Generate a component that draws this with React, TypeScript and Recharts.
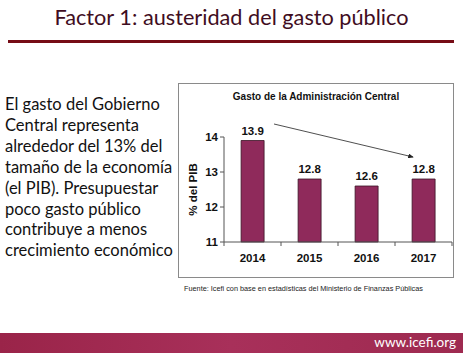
import React from 'react';
import { BarChart, Bar, XAxis, YAxis, LabelList } from 'recharts';

const years = ['2014', '2015', '2016', '2017'];
const gasto = [13.9, 12.8, 12.6, 12.8];
const yTicks = [11, 12, 13, 14];

const bodyLines = [
  'El gasto del Gobierno',
  'Central representa',
  'alrededor del 13% del',
  'tamaño de la economía',
  '(el PIB). Presupuestar',
  'poco gasto público',
  'contribuye a menos',
  'crecimiento económico',
];

const data = years.map((year, i) => ({ year, gasto: gasto[i] }));

const CHART_W = 274;
const CHART_H = 193;
const MARGIN = { top: 53, right: 1, bottom: 5, left: 0 };
const Y_AXIS_W = 45;
const X_AXIS_H = 30;
const bandWidth = (CHART_W - MARGIN.left - MARGIN.right - Y_AXIS_W) / years.length;
const FONT = 'Liberation Sans';

// x-axis tick marks sit between the categories, as in Excel
const YearTick = (props: any) => {
  const { x, y, payload, index } = props;
  const left = x - bandWidth / 2;
  return (
    <g>
      <line x1={left} y1={y - 8} x2={left} y2={y - 4} stroke="#555" />
      {index === years.length - 1 && (
        <line x1={left + bandWidth} y1={y - 8} x2={left + bandWidth} y2={y - 4} stroke="#555" />
      )}
      <text x={x} y={y + 12} textAnchor="middle" fontSize={11.5} fontWeight="bold" fill="#111" fontFamily={FONT}>
        {payload.value}
      </text>
    </g>
  );
};

const App = () => {
  return (
    <div style={{ position: 'absolute', left: 0, top: 0, width: 463, height: 353, background: '#fff', overflow: 'hidden' }}>
      <div
        style={{
          position: 'absolute', left: 0, width: 463, top: 4, textAlign: 'center',
          fontFamily: 'Lato', fontSize: 21.7, color: '#3f0d22',
        }}
      >
        Factor 1: austeridad del gasto público
      </div>
      <div style={{ position: 'absolute', left: 8, top: 40, width: 446, height: 3, background: '#760c16' }} />

      <div style={{ position: 'absolute', left: 5, top: 94, fontFamily: 'Lato', fontSize: 16.5, lineHeight: '20.9px', color: '#111' }}>
        {bodyLines.map((l) => (
          <div key={l} style={{ whiteSpace: 'nowrap' }}>{l}</div>
        ))}
      </div>

      <div style={{ position: 'absolute', left: 178, top: 83, width: CHART_W, height: CHART_H, border: '1px solid #8a8a8a' }}>
        <div
          style={{
            position: 'absolute', left: 0, width: CHART_W, top: 7, textAlign: 'center',
            fontFamily: FONT, fontWeight: 'bold', fontSize: 10, color: '#111',
          }}
        >
          Gasto de la Administración Central
        </div>
        <BarChart width={CHART_W} height={CHART_H} data={data} margin={MARGIN} barCategoryGap="30%">
          <XAxis
            dataKey="year"
            height={X_AXIS_H}
            tick={<YearTick />}
            tickLine={false}
            axisLine={{ stroke: '#555' }}
            interval={0}
          />
          <YAxis
            domain={[11, 14]}
            ticks={yTicks}
            width={Y_AXIS_W}
            tickSize={4}
            tickLine={{ stroke: '#555' }}
            axisLine={{ stroke: '#555' }}
            tick={{ fontSize: 11.5, fontWeight: 'bold', fill: '#111', fontFamily: FONT }}
            label={{
              value: '% del PIB', angle: -90, position: 'insideLeft', offset: 14,
              style: { fontSize: 11.5, fontWeight: 'bold', fill: '#111', fontFamily: FONT, textAnchor: 'middle' },
            }}
          />
          <Bar dataKey="gasto" fill="#8f2a5b" stroke="#3a1426" strokeWidth={0.8} isAnimationActive={false}>
            <LabelList
              dataKey="gasto"
              position="top"
              offset={6}
              style={{ fontSize: 11.5, fontWeight: 'bold', fill: '#111', fontFamily: FONT }}
            />
          </Bar>
        </BarChart>
        {/* trend arrow annotation */}
        <svg style={{ position: 'absolute', left: 0, top: 0 }} width={CHART_W} height={CHART_H}>
          <defs>
            <marker id="ah" markerWidth="7" markerHeight="6" refX="6" refY="3" orient="auto">
              <path d="M0,0 L7,3 L0,6 Z" fill="#222" />
            </marker>
          </defs>
          <line x1={95} y1={40} x2={234} y2={73} stroke="#222" strokeWidth={0.8} markerEnd="url(#ah)" />
        </svg>
      </div>

      <div
        style={{
          position: 'absolute', left: 184, top: 284, fontFamily: FONT, fontSize: 7.3,
          color: '#222', whiteSpace: 'nowrap',
        }}
      >
        Fuente: Icefi con base en estadísticas del Ministerio de Finanzas Públicas
      </div>

      <div
        style={{
          position: 'absolute', left: 0, top: 333, width: 463, height: 20,
          background: 'linear-gradient(90deg, #9a2449 0%, #a8305a 50%, #9e2a50 100%)',
        }}
      >
        <div style={{ position: 'absolute', right: 7, top: 1, fontFamily: 'Lato', fontSize: 13.5, color: '#fff' }}>
          www.icefi.org
        </div>
      </div>
    </div>
  );
};

export default App;
